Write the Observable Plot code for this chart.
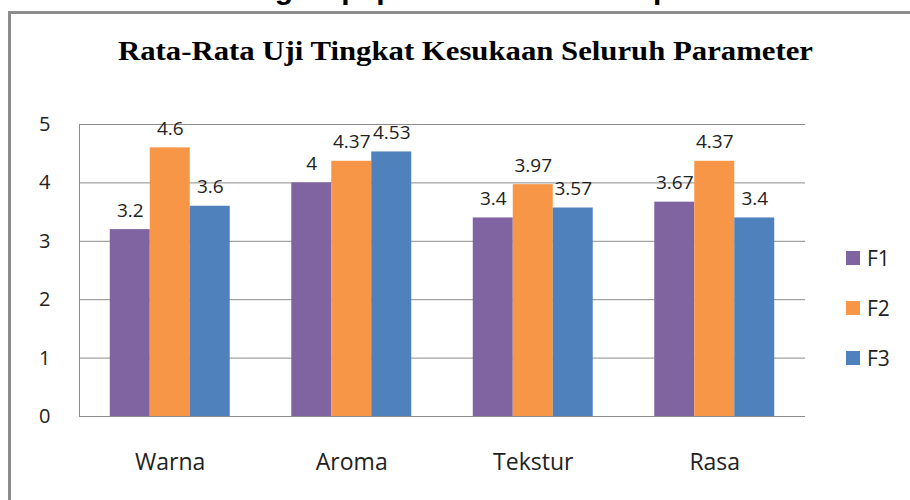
<!DOCTYPE html>
<html>
<head>
<meta charset="utf-8">
<script src="https://cdn.jsdelivr.net/npm/d3@7"></script>
<script src="https://cdn.jsdelivr.net/npm/@observablehq/plot@0.6"></script>
<style>
  html, body { margin: 0; padding: 0; background: #fff; }
  #wrap { position: relative; width: 910px; height: 500px; overflow: hidden; background: #fff; }
  #toptext { position: absolute; left: 0; width: 946px; top: -26px; text-align: center;
    font: bold 30px "Liberation Sans", Arial, sans-serif; line-height: 30px; color: #000; white-space: nowrap; }
  #box { position: absolute; left: 8px; top: 11px; width: 1000px; height: 600px;
    border-left: 3px solid #8c8c8c; border-top: 3px solid #8c8c8c; }
  #title { position: absolute; left: 0; top: 0; }
  .layer { position: absolute; left: 0; top: 0; }
  #legend { position: absolute; left: 846px; top: 233px; font-family: "Open Sans", sans-serif; font-size: 21px; color: #222; }
  #legend .row { display: flex; align-items: center; height: 50px; }
  #legend .sw { width: 14px; height: 14px; margin-right: 7px; }
</style>
</head>
<body>
<div id="wrap">
  <div id="toptext">ang Kopi pada Semua Kelompok</div>
  <div id="box"></div>
  <svg id="title" width="910" height="80">
    <text x="118" y="60" textLength="695" lengthAdjust="spacingAndGlyphs"
      font-family="Liberation Serif, Times New Roman, serif" font-weight="bold" font-size="27" fill="#000">Rata-Rata Uji Tingkat Kesukaan Seluruh Parameter</text>
  </svg>
  <div id="back" class="layer"></div>
  <div id="front" class="layer"></div>
  <div id="legend"></div>
</div>
<script>
const categories = ["Warna", "Aroma", "Tekstur", "Rasa"];
const series = ["F1", "F2", "F3"];
const F1 = [3.2, 4, 3.4, 3.67];
const F2 = [4.6, 4.37, 3.97, 4.37];
const F3 = [3.6, 4.53, 3.57, 3.4];
const colors = ["#8064A2", "#F79646", "#4F81BD"];
const yTicks = [0, 1, 2, 3, 4, 5];

const seriesValues = [F1, F2, F3];
const rows = categories.flatMap((c, i) => series.map((s, j) => ({category: c, series: s, value: seriesValues[j][i]})));

const W = 910, H = 500;
const margins = {marginLeft: 79, marginRight: 105, marginTop: 124, marginBottom: 84};
const font = '"Open Sans", sans-serif';

// Background: gridlines, axes
const back = Plot.plot({
  width: W, height: H, ...margins,
  style: {background: "transparent", fontFamily: font, color: "#222"},
  x: {type: "linear", domain: [0, categories.length], axis: null},
  y: {domain: [0, 5], axis: null},
  marks: [
    Plot.ruleY(yTicks, {stroke: "#8c8c8c", strokeWidth: 1}),
    Plot.ruleX([0], {y1: 0, y2: 5, stroke: "#8c8c8c", strokeWidth: 1}),
    Plot.axisY({ticks: yTicks, tickSize: 0, tickPadding: 29, fontSize: 20, tickFormat: d => String(d)}),
    Plot.axisX({ticks: categories.map((c, i) => i + 0.5), tickFormat: t => categories[Math.floor(t)],
      tickSize: 0, tickPadding: 37, fontSize: 23})
  ]
});
document.getElementById("back").appendChild(back);

// Foreground: grouped bars
const front = Plot.plot({
  width: W, height: H, ...margins,
  style: {background: "transparent", fontFamily: font, color: "#222"},
  fx: {domain: categories, paddingInner: 0.339, paddingOuter: 0.1695, round: false, axis: null},
  x: {domain: series, padding: 0, round: false, axis: null},
  y: {domain: [0, 5], axis: null},
  color: {domain: series, range: colors},
  marks: [
    Plot.barY(rows, {fx: "category", x: "series", y: "value", fill: "series"}),
    Plot.text(rows, {fx: "category", x: "series", y: "value", text: d => String(d.value),
      lineAnchor: "bottom", dy: -13, fontSize: 19, fill: "#222"})
  ]
});
document.getElementById("front").appendChild(front);

// Legend
const legend = document.getElementById("legend");
series.forEach((s, j) => {
  const row = document.createElement("div");
  row.className = "row";
  const sw = document.createElement("div");
  sw.className = "sw";
  sw.style.background = colors[j];
  const lab = document.createElement("span");
  lab.textContent = s;
  row.appendChild(sw);
  row.appendChild(lab);
  legend.appendChild(row);
});
</script>
</body>
</html>
